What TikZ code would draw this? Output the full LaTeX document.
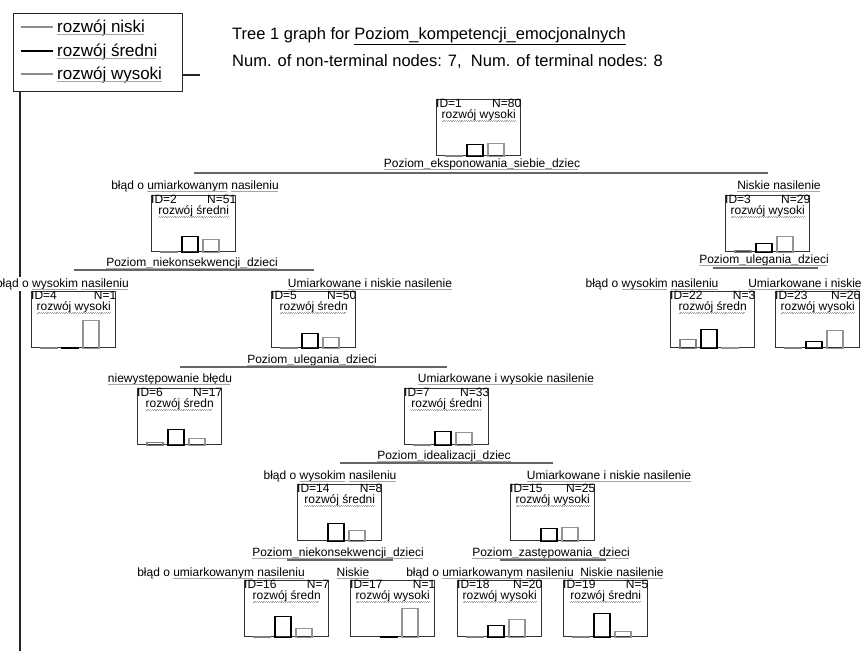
\documentclass[tikz,border=0pt]{standalone}
\usepackage{fontspec}
\setmainfont{Liberation Sans}
\usetikzlibrary{calc}

% grey wavy underline (spell-check style)
\newsavebox\wvbox
\newcommand\wv[1]{\sbox\wvbox{#1}\rlap{\usebox\wvbox}\hbox to \wd\wvbox{\color{black!35}\leaders\hbox{\rule[-2.9pt]{0.9pt}{0.6pt}\rule[-2.3pt]{0.9pt}{0.6pt}}\hfill}}

\tikzset{
  box/.style={draw=black!80, line width=1.4pt, minimum width=84pt, minimum height=56pt, inner sep=0pt, anchor=north west},
  boxtxt/.style={font=\fontsize{12}{12}\selectfont, inner sep=0pt},
  lbl/.style={font=\fontsize{12}{14}\selectfont, inner sep=1pt, anchor=base},
  splitline/.style={draw=black!60, line width=1.2pt},
  barlo/.style={draw=black!50, line width=1.3pt},
  barmid/.style={draw=black, line width=1.3pt},
  barhi/.style={draw=black!42, line width=1.3pt},
  legtxt/.style={font=\fontsize{17}{18}\selectfont, inner sep=0pt, anchor=base west},
  ttl/.style={font=\fontsize{16.5}{18}\selectfont, inner sep=0pt, anchor=base west},
}

% tree node: name, x, y, ID, N, class, bar heights (niski, sredni, wysoki)
\newcommand\tnode[9]{%
  \node[box] (#1) at (#2,#3) {};
  \node[boxtxt, anchor=north west] (#1id) at (#1.north west) {ID=#4};
  \node[boxtxt, anchor=north east] (#1n) at (#1.north east) {N=#5};
  \node[boxtxt, anchor=base] (#1cls) at ($(#1.north)+(0,19.5)$) {\wv{#6}};
  \ifnum#7>0 \draw[barlo] ($(#1.south west)+(10,0)$) rectangle ++(16,-#7);\fi
  \ifnum#8>0 \draw[barmid] ($(#1.south west)+(31,0)$) rectangle ++(16,-#8);\fi
  \ifnum#9>0 \draw[barhi] ($(#1.south west)+(52,0)$) rectangle ++(16,-#9);\fi
}

\begin{document}
\begin{tikzpicture}[x=1pt,y=-1pt]
\useasboundingbox (0,0) rectangle (868,651);

% legend and frame
\node[draw=black!85, line width=1.4pt, minimum width=169pt, minimum height=78pt, anchor=north west, inner sep=0pt] (legend) at (13,13) {};
\draw[black!85, line width=1.2pt] (20,91) -- (20,651);
\draw[black!85, line width=1.2pt] (182,75) -- (200,75);
\coordinate (l1a) at (21,27); \coordinate (l1b) at (53,27);
\coordinate (l2a) at (21,51); \coordinate (l2b) at (53,51);
\coordinate (l3a) at (21,74); \coordinate (l3b) at (53,74);
\draw[black!45, line width=1.3pt] (l1a) -- (l1b);
\draw[black, line width=1.3pt] (l2a) -- (l2b);
\draw[black!45, line width=1.3pt] (l3a) -- (l3b);
\node[legtxt] (leg1) at (57,32) {\wv{rozwój niski}};
\node[legtxt] (leg2) at (57,56) {\wv{rozwój średni}};
\node[legtxt] (leg3) at (57,79) {\wv{rozwój wysoki}};

% title
\node[ttl] (title1) at (232,39) {Tree 1 graph for \underline{Poziom\_kompetencji\_emocjonalnych}};
\node[ttl] (title2) at (232,66) {Num. of non-terminal nodes: 7,\ \ Num. of terminal nodes: 8};

% nodes
\tnode{n1}{436}{99}{1}{80}{rozwój wysoki}{1}{12}{13}
\tnode{n2}{151}{195}{2}{51}{rozwój średni}{1}{16}{13}
\tnode{n3}{725}{195}{3}{29}{rozwój wysoki}{2}{9}{16}
\tnode{n4}{31}{291}{4}{1}{rozwój wysoki}{1}{1}{28}
\tnode{n5}{271}{291}{5}{50}{rozwój średn}{1}{15}{11}
\tnode{n22}{670}{291}{22}{3}{rozwój średn}{9}{19}{1}
\tnode{n23}{775}{291}{23}{26}{rozwój wysoki}{1}{7}{18}
\tnode{n6}{137}{388}{6}{17}{rozwój średn}{3}{16}{7}
\tnode{n7}{404}{388}{7}{33}{rozwój średni}{1}{14}{13}
\tnode{n14}{297}{484}{14}{8}{rozwój średni}{0}{18}{11}
\tnode{n15}{510}{484}{15}{25}{rozwój wysoki}{0}{13}{14}
\tnode{n16}{244}{580}{16}{7}{rozwój średn}{1}{21}{9}
\tnode{n17}{350}{580}{17}{1}{rozwój wysoki}{0}{1}{29}
\tnode{n18}{457}{580}{18}{20}{rozwój wysoki}{1}{12}{18}
\tnode{n19}{563}{580}{19}{5}{rozwój średni}{1}{24}{6}

% split lines between sibling nodes
\draw[splitline] ($(n2.north)+(0,-22)$) -- ($(n3.north)+(0,-22)$);
\draw[splitline] ($(n4.north)+(0,-21)$) -- ($(n5.north)+(0,-21)$);
\draw[splitline] ($(n22.north)+(0,-23)$) -- ($(n23.north)+(0,-23)$);
\draw[splitline] ($(n6.north)+(0,-21)$) -- ($(n7.north)+(0,-21)$);
\draw[splitline] ($(n14.north)+(0,-21)$) -- ($(n15.north)+(0,-21)$);
\draw[splitline] ($(n16.north)+(0,-20)$) -- ($(n17.north)+(0,-20)$);
\draw[splitline] ($(n18.north)+(0,-20)$) -- ($(n19.north)+(0,-20)$);

% split variables
\node[lbl] (s1) at (482,167) {\wv{Poziom\_eksponowania\_siebie\_dziec}};
\node[lbl] (s2) at (192,266) {\wv{Poziom\_niekonsekwencji\_dzieci}};
\node[lbl] (s3) at (764,263) {\wv{Poziom\_ulegania\_dzieci}};
\node[lbl] (s5) at (312,363) {\wv{Poziom\_ulegania\_dzieci}};
\node[lbl] (s7) at (444,459) {\wv{Poziom\_idealizacji\_dziec}};
\node[lbl] (s14) at (338,556) {\wv{Poziom\_niekonsekwencji\_dzieci}};
\node[lbl] (s15) at (551,556) {\wv{Poziom\_zastępowania\_dzieci}};

% branch conditions
\node[lbl] (b2) at (195,189) {błąd o \wv{umiarkowanym} \wv{nasileniu}};
\node[lbl] (b3) at (779,189) {\wv{Niskie nasilenie}};
\node[lbl, anchor=base east, fill=white] (b4) at (130,287) {błąd o \wv{wysokim} \wv{nasileniu}};
\node[lbl] (b5) at (370,287) {\wv{Umiarkowane i niskie nasilenie}};
\node[lbl] (b22) at (652,287) {błąd o \wv{wysokim} \wv{nasileniu}};
\node[lbl] (b23) at (805,287) {\wv{Umiarkowane i niskie}};
\node[lbl] (b6) at (170,382) {\wv{niewystępowanie błędu}};
\node[lbl] (b7) at (506,382) {\wv{Umiarkowane i wysokie nasilenie}};
\node[lbl] (b14) at (330,479) {błąd o \wv{wysokim} \wv{nasileniu}};
\node[lbl] (b15) at (609,479) {\wv{Umiarkowane i niskie nasilenie}};
\node[lbl] (b16) at (221,576) {błąd o \wv{umiarkowanym} \wv{nasileniu}};
\node[lbl] (b17) at (353,576) {\wv{Niskie}};
\node[lbl] (b18) at (490,576) {błąd o \wv{umiarkowanym} \wv{nasileniu}};
\node[lbl] (b19) at (622,576) {\wv{Niskie nasilenie}};
\end{tikzpicture}
\end{document}
